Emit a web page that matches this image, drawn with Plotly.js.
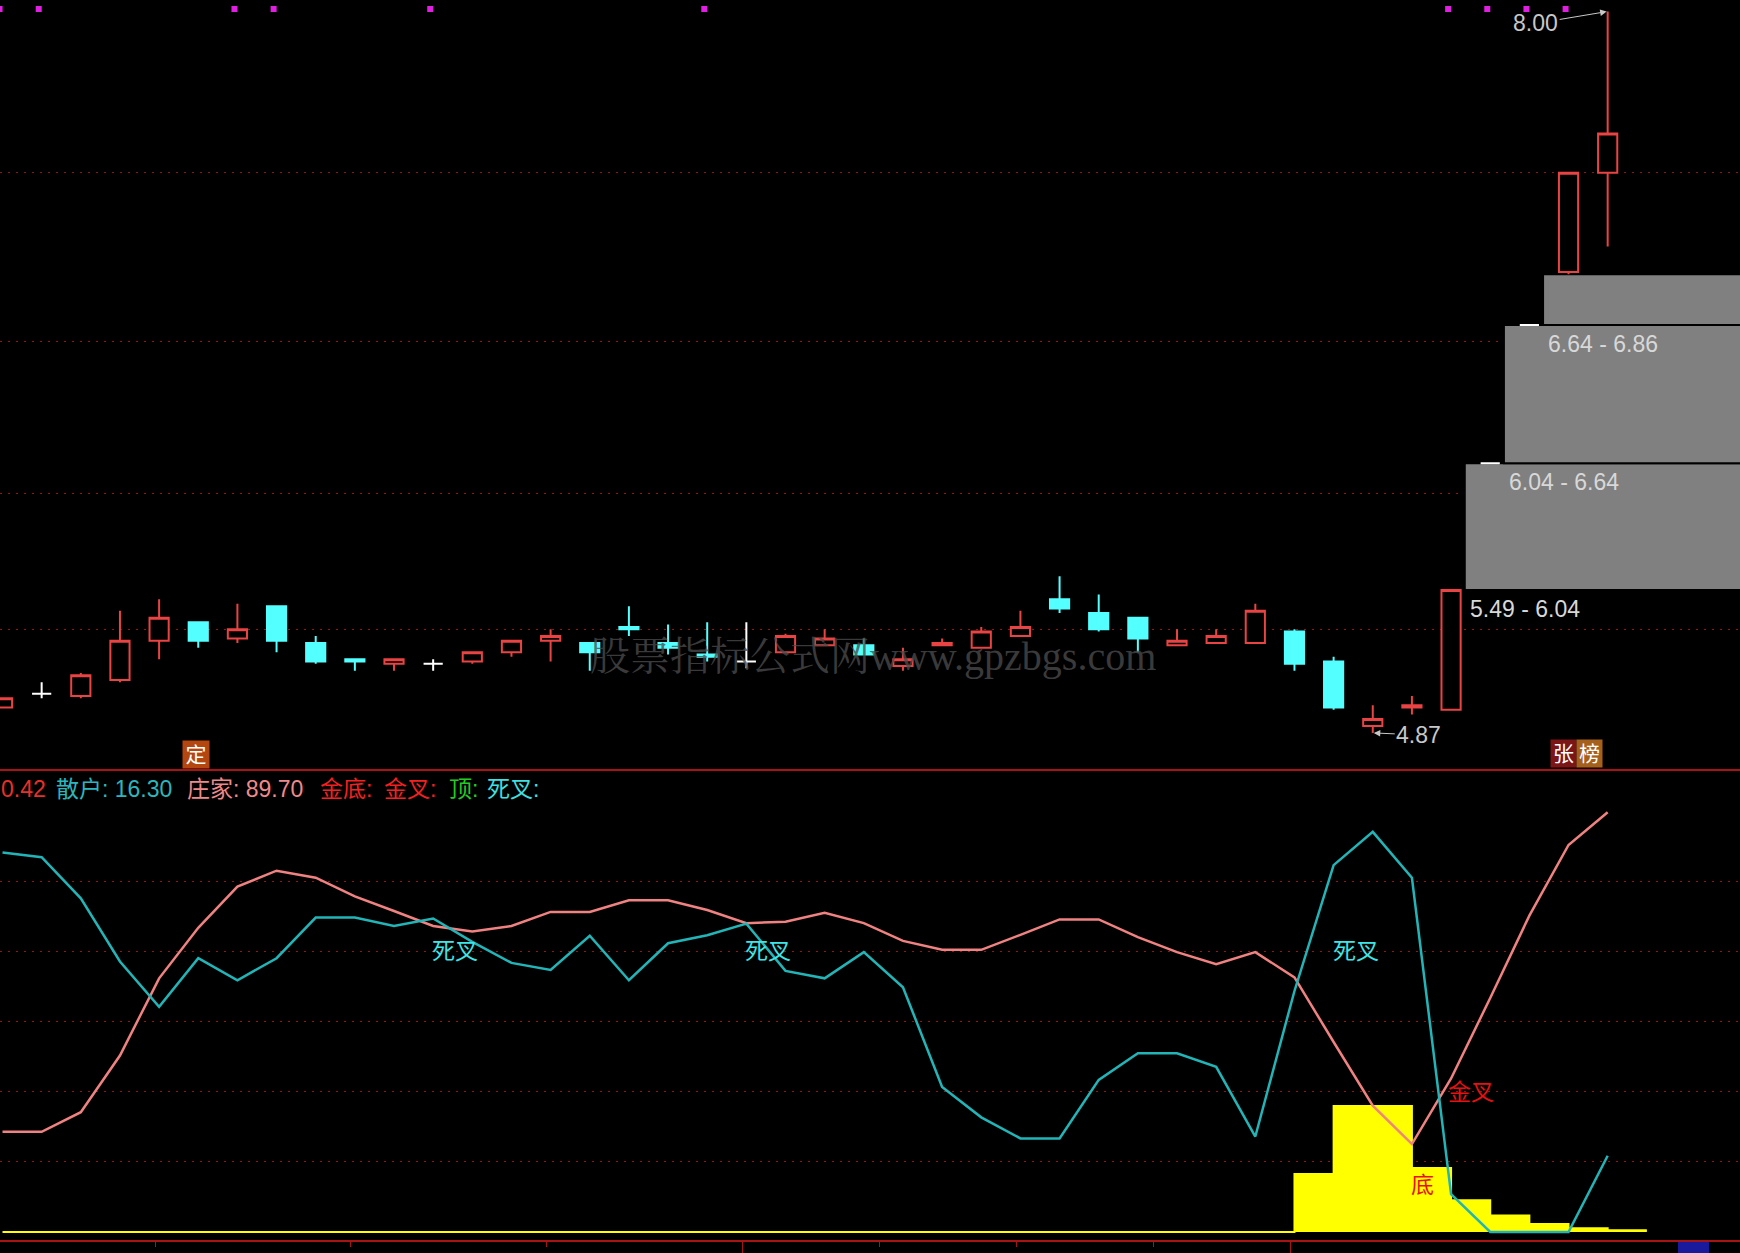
<!DOCTYPE html>
<html>
<head>
<meta charset="utf-8">
<script src="https://cdn.plot.ly/plotly-3.0.1.min.js"></script>
<style>
html,body{margin:0;padding:0;background:#000;overflow:hidden}
#chart{width:1740px;height:1253px}
</style>
</head>
<body>
<div id="chart"></div>
<script>
// ---------------- DATA ----------------
// daily K-line, index = trading day (0 = leftmost)
const openP  = [4.98,5.04,5.03,5.10,5.27,5.35,5.28,5.42,5.26,5.19,5.17,5.17,5.18,5.22,5.27,5.26,5.33,5.26,5.21,5.18,5.22,5.25,5.25,5.16,5.25,5.24,5.29,5.45,5.39,5.37,5.25,5.26,5.26,5.31,5.18,4.90,4.98,4.97,6.04,6.64,6.87,7.30];
const highP  = [5.02,5.09,5.13,5.40,5.45,5.35,5.43,5.42,5.29,5.19,5.19,5.19,5.22,5.27,5.32,5.26,5.42,5.34,5.35,5.35,5.30,5.32,5.28,5.24,5.28,5.33,5.40,5.55,5.47,5.37,5.32,5.32,5.43,5.32,5.20,4.99,5.03,5.49,6.04,6.64,7.30,8.00];
const lowP   = [4.98,5.02,5.02,5.09,5.19,5.24,5.26,5.22,5.17,5.14,5.14,5.14,5.17,5.20,5.18,5.14,5.29,5.21,5.18,5.15,5.22,5.25,5.21,5.14,5.25,5.24,5.29,5.39,5.31,5.22,5.25,5.26,5.26,5.14,4.97,4.87,4.95,4.97,6.04,6.64,6.86,6.98];
const closeP = [5.02,5.04,5.12,5.27,5.37,5.27,5.32,5.27,5.18,5.18,5.19,5.17,5.22,5.27,5.29,5.22,5.32,5.24,5.20,5.18,5.29,5.28,5.21,5.19,5.26,5.31,5.33,5.41,5.32,5.28,5.27,5.29,5.40,5.17,4.98,4.93,4.99,5.49,6.04,6.64,7.30,7.47];

// indicator panel
const sanhu  = [81.1,80.1,71.3,57.8,48.1,58.5,53.8,58.5,67.2,67.2,65.4,67.0,62.0,57.5,56.0,63.3,53.8,61.7,63.4,65.9,55.8,54.2,59.8,52.3,31.0,24.5,20.0,20.0,32.5,38.2,38.2,35.3,20.4,51.5,78.4,85.5,75.7,8.1,0,0,0,16.3];
const zhuang = [21.4,21.4,25.6,37.7,54.2,65.0,73.8,77.2,75.7,71.7,68.6,65.4,64.2,65.4,68.4,68.4,70.9,70.9,68.8,66.0,66.3,68.2,66.0,62.2,60.3,60.3,63.5,66.8,66.8,63.0,59.8,57.2,59.8,54.4,40.6,27.0,18.8,32.8,50.0,67.6,82.7,89.7];
const jindi  = [0,0,0,0,0,0,0,0,0,0,0,0,0,0,0,0,0,0,0,0,0,0,0,0,0,0,0,0,0,0,0,0,0,12.4,26.9,26.9,13.7,6.8,3.5,1.7,0.8,0.4];

// signals
const topSignalIdx  = [0,1,6,7,11,18,37,38,39,40];
const deathCrossIdx = [11,19,34];
const goldCrossIdx  = [37];
const bottomIdx     = [36];
const dingIdx       = [5];
const zhangbangIdx  = [40];

// grid / tick levels
const priceGrid = [7.30,6.57,5.91,5.32];
const indGrid   = [15,30,45,60,75];
const dateTickMinor = [3.9,8.9,13.9,22.4,25.9,29.4];
const dateTickMajor = [18.9,32.9];

// ---------------- STYLE ----------------
const W = 1740, H = 1253;
const RED = '#ea4343', CYAN = '#54ffff', WHITE = '#ffffff';
const GRID = '#8e1818', SEP = '#a81414';
const FONT = 'Liberation Sans, Noto Sans CJK SC, sans-serif';
const py = px => 1 - px / H;           // page px -> paper y
const pxx = px => px / W;              // page px -> paper x

const xRange = [-0.064, 44.38];
const priceRange = [4.7091, 8.0497];
const indRange = [-1.71, 98.72];
const boxgap = 0.3, halfW = (1 - boxgap) / 2;

const N = closeP.length;
const idx = Array.from({length: N}, (_, i) => i);

// ---------------- TRACES ----------------
const traces = [];

// yellow step histogram
traces.push({
  type: 'scatter', mode: 'lines', xaxis: 'x', yaxis: 'y2',
  x: idx.concat([N]), y: jindi.concat([jindi[N - 1]]),
  line: {shape: 'hv', color: '#ffff00', width: 2},
  fill: 'tozeroy', fillcolor: '#ffff00', hoverinfo: 'skip'
});
// 庄家
traces.push({
  type: 'scatter', mode: 'lines', xaxis: 'x', yaxis: 'y2',
  x: idx, y: zhuang, line: {color: '#f08282', width: 2.5}, hoverinfo: 'skip'
});
// 散户
traces.push({
  type: 'scatter', mode: 'lines', xaxis: 'x', yaxis: 'y2',
  x: idx, y: sanhu, line: {color: '#22b5b8', width: 2.5}, hoverinfo: 'skip'
});

// candles split by direction
const up = [], down = [], flat = [];
idx.forEach(i => {
  if (closeP[i] > openP[i]) up.push(i);
  else if (closeP[i] < openP[i]) down.push(i);
  else flat.push(i);
});
function candle(ids, color, fill) {
  const side = {line: {color: color, width: 2}, fillcolor: fill};
  return {
    type: 'candlestick', xaxis: 'x', yaxis: 'y',
    x: ids, open: ids.map(i => openP[i]), high: ids.map(i => highP[i]),
    low: ids.map(i => lowP[i]), close: ids.map(i => closeP[i]),
    increasing: side, decreasing: side, whiskerwidth: 0,
    hoverinfo: 'skip', showlegend: false
  };
}
traces.push(candle(up, RED, '#000000'));
traces.push(candle(down, CYAN, CYAN));
traces.push(candle(flat, WHITE, WHITE));

// magenta signal dots along the top
const dotY = priceRange[1] - 9 / 770 * (priceRange[1] - priceRange[0]);
traces.push({
  type: 'scatter', mode: 'markers', xaxis: 'x', yaxis: 'y',
  x: topSignalIdx.map(i => i - 0.075), y: topSignalIdx.map(() => dotY),
  marker: {symbol: 'square', size: 6, color: '#e020e0'}, hoverinfo: 'skip'
});

// ---------------- SHAPES ----------------
const shapes = [];
// panel separator
shapes.push({type: 'line', xref: 'paper', yref: 'paper', x0: 0, x1: 1, y0: py(770), y1: py(770),
  line: {color: SEP, width: 2}, layer: 'above'});
// unfilled up-gaps (still open at the last bar)
const gaps = [];
for (let i = 0; i < N - 1; i++) {
  const lo = highP[i], hi = lowP[i + 1];
  if (hi > lo && Math.min.apply(null, lowP.slice(i + 1)) >= hi) gaps.push({i: i, lo: lo, hi: hi});
}
gaps.forEach(g => {
  shapes.push({type: 'rect', xref: 'x', yref: 'y', x0: g.i + halfW, x1: xRange[1] + 1,
    y0: g.lo, y1: g.hi, fillcolor: '#808080', line: {color: '#000000', width: 2}, layer: 'between'});
});
// small blue block bottom-right
shapes.push({type: 'rect', xref: 'paper', yref: 'paper', x0: pxx(1678), x1: pxx(1709), y0: 0, y1: py(1242),
  fillcolor: '#1a1a9c', line: {width: 0}, layer: 'above'});

// ---------------- ANNOTATIONS ----------------
const ann = [];
function txt(o) { return Object.assign({showarrow: false, font: {family: FONT, size: 23}}, o); }

// header line of the indicator
const hy = py(789);
const header = [
  {t: '0.42', c: '#e8302a', x: -1},
  {t: '散户: ' + sanhu[N - 1].toFixed(2), c: '#2bb7bd', x: 54},
  {t: '庄家: ' + zhuang[N - 1].toFixed(2), c: '#f08a8a', x: 185},
  {t: '金底:', c: '#f52020', x: 318},
  {t: '金叉:', c: '#f52020', x: 382},
  {t: '顶:', c: '#22cc22', x: 447},
  {t: '死叉:', c: '#3fe0e0', x: 485}
];
header.forEach(h => ann.push(txt({xref: 'paper', yref: 'paper', x: pxx(Math.max(h.x, 0)), xshift: Math.min(h.x, 0),
  y: hy, xanchor: 'left', yanchor: 'middle', text: h.t, font: {family: FONT, size: 23, color: h.c}})));

// cross / bottom labels in indicator panel
deathCrossIdx.forEach(i => ann.push(txt({xref: 'x', yref: 'y2', x: i, y: 60, xanchor: 'left', yanchor: 'middle', xshift: -3,
  text: '死叉', font: {family: FONT, size: 23, color: '#3fe6e6'}})));
goldCrossIdx.forEach(i => ann.push(txt({xref: 'x', yref: 'y2', x: i, y: 30, xanchor: 'left', yanchor: 'middle', xshift: -5,
  text: '金叉', font: {family: FONT, size: 23, color: '#e81010'}})));
bottomIdx.forEach(i => ann.push(txt({xref: 'x', yref: 'y2', x: i, y: 10, xanchor: 'left', yanchor: 'middle', xshift: -3,
  text: '底', font: {family: FONT, size: 23, color: '#e81010'}})));

// gap box labels
gaps.forEach(g => ann.push(txt({xref: 'x', yref: 'y', x: g.i + halfW, y: g.lo, xanchor: 'left', yanchor: 'middle',
  xshift: 3, yshift: -19, text: g.lo.toFixed(2) + ' - ' + g.hi.toFixed(2),
  font: {family: FONT, size: 23, color: '#d8d8d8'}})));

// high / low markers
let hiI = 0, loI = 0;
idx.forEach(i => { if (highP[i] > highP[hiI]) hiI = i; if (lowP[i] < lowP[loI]) loI = i; });
ann.push({xref: 'x', yref: 'y', x: hiI, y: highP[hiI], text: highP[hiI].toFixed(2), showarrow: true,
  ax: -72, ay: 12, arrowhead: 2, arrowsize: 1.3, arrowwidth: 1, arrowcolor: '#c8c8c8', standoff: 1,
  font: {family: FONT, size: 23, color: '#c8c8c8'}});
ann.push({xref: 'x', yref: 'y', x: loI, y: lowP[loI], text: lowP[loI].toFixed(2), showarrow: true,
  ax: 46, ay: 2, arrowhead: 2, arrowsize: 1.3, arrowwidth: 1, arrowcolor: '#c8c8c8', standoff: 1,
  font: {family: FONT, size: 23, color: '#c8c8c8'}});

// tag labels at bottom of price panel
dingIdx.forEach(i => ann.push(txt({xref: 'x', yref: 'paper', x: i, y: py(769), xanchor: 'center', yanchor: 'bottom',
  xshift: -2, text: '定', width: 24, height: 25, bgcolor: '#b4460f', font: {family: FONT, size: 21, color: '#ffffff'}})));
zhangbangIdx.forEach(i => {
  ann.push(txt({xref: 'x', yref: 'paper', x: i, y: py(768), xanchor: 'center', yanchor: 'bottom',
    xshift: -5, text: '张', width: 23, height: 25, bgcolor: '#7c1515', font: {family: FONT, size: 21, color: '#ffffff'}}));
  ann.push(txt({xref: 'x', yref: 'paper', x: i, y: py(768), xanchor: 'center', yanchor: 'bottom',
    xshift: 21, text: '榜', width: 23, height: 25, bgcolor: '#a5601c', font: {family: FONT, size: 21, color: '#ffffff'}}));
});

// watermark
ann.push(txt({xref: 'paper', yref: 'paper', x: pxx(873), y: py(656), xanchor: 'center', yanchor: 'middle',
  text: '股票指标公式网www.gpzbgs.com',
  font: {family: 'Liberation Serif, Noto Serif CJK SC, Noto Sans CJK SC, serif', size: 40, color: 'rgba(75,75,75,0.78)'}}));

// ---------------- LAYOUT ----------------
const layout = {
  width: W, height: H, margin: {l: 0, r: 0, t: 0, b: 0, pad: 0},
  paper_bgcolor: '#000000', plot_bgcolor: '#000000', showlegend: false,
  boxgap: boxgap,
  xaxis: {
    range: xRange, domain: [0, 1], anchor: 'y2', fixedrange: true,
    showgrid: false, zeroline: false, showticklabels: false,
    rangeslider: {visible: false},
    showline: true, linecolor: SEP, linewidth: 2,
    tickmode: 'array', tickvals: dateTickMajor, ticks: 'outside', ticklen: 13, tickwidth: 1, tickcolor: SEP,
    minor: {tickmode: 'array', tickvals: dateTickMinor, ticks: 'outside', ticklen: 5, tickwidth: 1, tickcolor: SEP, showgrid: false}
  },
  yaxis: {
    domain: [py(770), 1], range: priceRange, anchor: 'x', fixedrange: true,
    tickmode: 'array', tickvals: priceGrid, showticklabels: false, ticks: '',
    showgrid: true, gridcolor: GRID, gridwidth: 1, griddash: '2px,6px', zeroline: false, showline: false
  },
  yaxis2: {
    domain: [py(1240), py(770)], range: indRange, anchor: 'x', fixedrange: true,
    tickmode: 'array', tickvals: indGrid, showticklabels: false, ticks: '',
    showgrid: true, gridcolor: GRID, gridwidth: 1, griddash: '2px,6px', zeroline: false, showline: false
  },
  shapes: shapes,
  annotations: ann
};

Plotly.newPlot('chart', traces, layout, {staticPlot: true, displayModeBar: false});
</script>
</body>
</html>
